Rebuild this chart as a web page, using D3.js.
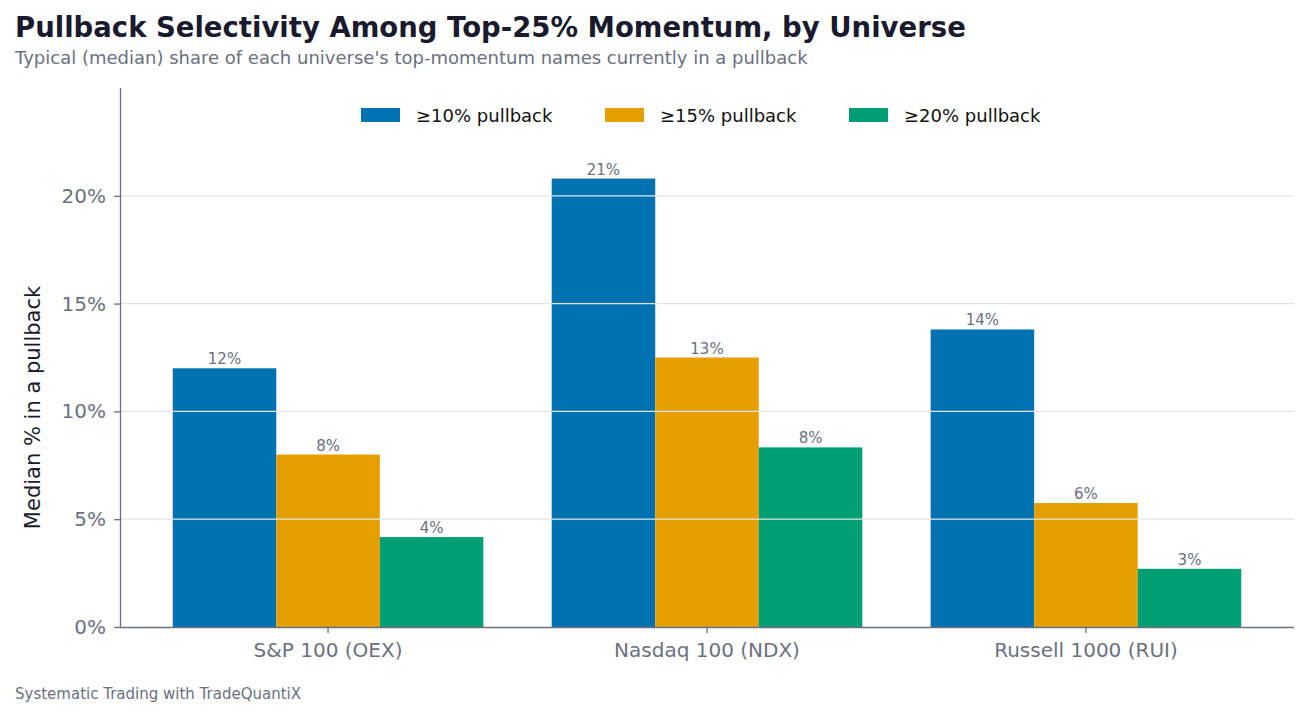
<!DOCTYPE html>
<html><head><meta charset="utf-8">
<script src="https://cdn.jsdelivr.net/npm/d3@7.9.0/dist/d3.min.js"></script>
<style>body{margin:0;background:#fff;font-family:"DejaVu Sans",sans-serif;}</style>
</head><body>
<svg id="c" width="1309" height="717"></svg>
<script>
// data
const universes = ['S&P 100 (OEX)', 'Nasdaq 100 (NDX)', 'Russell 1000 (RUI)'];
const seriesNames = ['≥10% pullback', '≥15% pullback', '≥20% pullback'];
const pb10 = [12.0, 20.8, 13.8];
const pb15 = [8.0, 12.5, 5.75];
const pb20 = [4.17, 8.33, 2.7];
const yTicks = [0, 5, 10, 15, 20];
const colors = ['#0072b2', '#e69f00', '#009e73'];

const series = [pb10, pb15, pb20];
const svg = d3.select('#c');
const L = 120, R = 1294, T = 88, B = 627;

const x = d3.scaleBand().domain(universes).range([L, R]).paddingInner(0).paddingOuter(0.049);
const xs = d3.scaleBand().domain(d3.range(3)).range([0, x.bandwidth()]).paddingInner(0).paddingOuter(0.33);
const y = d3.scaleLinear().domain([0, 25]).range([B, T]);

// bars
universes.forEach((u, i) => {
  series.forEach((s, j) => {
    svg.append('rect').attr('x', x(u) + xs(j)).attr('width', xs.bandwidth())
      .attr('y', y(s[i])).attr('height', B - y(s[i])).attr('fill', colors[j]);
    svg.append('text').attr('x', x(u) + xs(j) + xs.bandwidth() / 2).attr('y', y(s[i]) - 4)
      .attr('text-anchor', 'middle').attr('font-size', 15).attr('fill', '#6b7080')
      .text(Math.round(s[i]) + '%');
  });
});

// grid on top
yTicks.filter(t => t > 0).forEach(t => {
  svg.append('line').attr('x1', L).attr('x2', R).attr('y1', y(t)).attr('y2', y(t))
    .attr('stroke', '#e3e3e3').attr('stroke-width', 1.2);
});

// axes
const ya = svg.append('g').attr('transform', `translate(${L},0)`)
  .call(d3.axisLeft(y).tickValues(yTicks).tickFormat(d => d + '%').tickSize(6).tickPadding(8));
const xa = svg.append('g').attr('transform', `translate(0,${B})`)
  .call(d3.axisBottom(x).tickSize(6).tickPadding(10));
[ya, xa].forEach(g => {
  g.selectAll('path,line').attr('stroke', '#6b7080').attr('stroke-width', 1.3);
  g.selectAll('text').attr('font-size', 20).attr('fill', '#6b7080').attr('font-family', 'DejaVu Sans');
});
xa.select('.domain').attr('d', `M${L},0.5H${R}`);
ya.select('.domain').attr('d', `M0.5,${B}V${T}`);

svg.append('text').attr('transform', `translate(40,${(T + B) / 2 + 50}) rotate(-90)`)
  .attr('text-anchor', 'middle').attr('font-size', 21).attr('fill', '#1a1a2e').text('Median % in a pullback');

// legend
const lx = [361, 605, 849];
seriesNames.forEach((n, j) => {
  svg.append('rect').attr('x', lx[j]).attr('y', 108).attr('width', 39).attr('height', 14).attr('fill', colors[j]);
  svg.append('text').attr('x', lx[j] + 55).attr('y', 122).attr('font-size', 18).attr('fill', '#111').text(n);
});

// titles
svg.append('text').attr('x', 15).attr('y', 37).attr('font-size', 27.5).attr('font-weight', 'bold')
  .attr('fill', '#1a1a2e').text('Pullback Selectivity Among Top-25% Momentum, by Universe');
svg.append('text').attr('x', 15).attr('y', 64).attr('font-size', 18).attr('fill', '#6b7080')
  .text("Typical (median) share of each universe's top-momentum names currently in a pullback");
svg.append('text').attr('x', 15).attr('y', 699).attr('font-size', 15).attr('fill', '#6b7080')
  .text('Systematic Trading with TradeQuantiX');
</script>
</body></html>
